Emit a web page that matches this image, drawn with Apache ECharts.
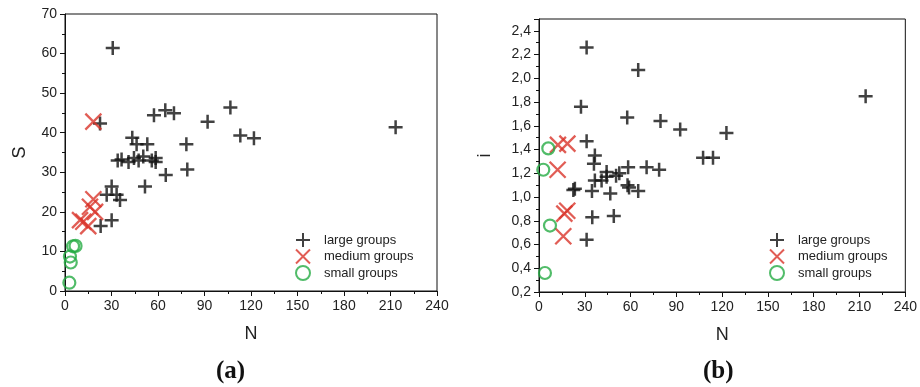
<!DOCTYPE html>
<html>
<head>
<meta charset="utf-8">
<script src="https://cdn.jsdelivr.net/npm/echarts@6/dist/echarts.min.js"></script>
<style>
  html, body { margin: 0; padding: 0; background: #fff; }
  #chart { width: 920px; height: 387px; }
</style>
</head>
<body>
<div id="chart"></div>
<script>
// panel (a): N vs S
const largeA = [
  [30.8, 61.4], [22.6, 42.3], [57.4, 44.4], [64.7, 45.7], [70.3, 44.9], [92, 42.8],
  [106.7, 46.4], [113.1, 39.3], [121.9, 38.6], [213.3, 41.4], [78.3, 37.1], [43.4, 38.7],
  [46.2, 37.1], [53.1, 37.1], [34, 33], [36.5, 33.2], [41, 32.6], [44.5, 33.6],
  [47.5, 33], [50.5, 34], [56, 33], [58.5, 32.6], [58.5, 33.6], [78.9, 30.7],
  [65, 29.3], [51.6, 26.4], [30.1, 26.4], [26.9, 24.3], [33.3, 24.3], [35.5, 23],
  [30.1, 17.9], [23, 16.4]
];
const mediumA = [[18.3, 42.8], [18.3, 23.2], [16.1, 21.3], [19.4, 20], [9.7, 17.9], [11.8, 17.5], [15, 16.4]];
const smallA = [[5.2, 11.3], [6.8, 11.4], [3.2, 8.7], [3.7, 7.2], [2.8, 2.1]];

// panel (b): N vs i
const largeB = [
  [31.2, 2.26], [65, 2.07], [27.5, 1.76], [57.8, 1.67], [79.6, 1.64], [92.5, 1.57],
  [122.8, 1.54], [214, 1.85], [31.2, 1.47], [36.6, 1.35], [36, 1.28], [44.3, 1.21],
  [52.6, 1.2], [58.4, 1.25], [70.5, 1.25], [78.7, 1.23], [107.5, 1.33], [114, 1.33],
  [22.5, 1.06], [23.5, 1.07], [34.7, 1.05], [46.7, 1.03], [65, 1.05], [58, 1.1],
  [59, 1.08], [36.6, 1.14], [41, 1.14], [44.3, 1.17], [50.5, 1.18], [34.9, 0.83],
  [49, 0.84], [31.2, 0.64]
];
const mediumB = [[12.4, 1.44], [18.6, 1.45], [12.2, 1.23], [18.5, 0.885], [16.6, 0.86], [15.9, 0.67]];
const smallB = [[6.1, 1.41], [2.8, 1.23], [7.2, 0.76], [3.9, 0.36]];

const groupNames = ['large groups', 'medium groups', 'small groups'];

const PLUS = 'path://M0,7L14,7M7,0L7,14';
const CROSS = 'path://M0,0L14,14M14,0L0,14';
const txt = '#222';
const font = 'Liberation Sans, Arial, sans-serif';

const chart = echarts.init(document.getElementById('chart'));

const xAxisBase = gi => ({
  gridIndex: gi,
  type: 'value',
  min: 0,
  max: 240,
  interval: 30,
  name: 'N',
  nameLocation: 'middle',
  nameGap: 34,
  nameTextStyle: { fontSize: 18, color: txt, fontFamily: font },
  axisLine: { lineStyle: { color: '#111', width: 1 } },
  axisTick: { length: 5, lineStyle: { color: '#111' } },
  minorTick: { show: true, splitNumber: 2, length: 3, lineStyle: { color: '#111' } },
  axisLabel: { fontSize: 14, color: txt, fontFamily: font, margin: 8 },
  splitLine: { show: false }
});

const commaFmt = v => {
  if (Math.abs(v * 5 - Math.round(v * 5)) > 1e-6) return '';
  return v.toFixed(1).replace('.', ',');
};

function scatter(name, data, gi, kind) {
  const s = { name, type: 'scatter', xAxisIndex: gi, yAxisIndex: gi, data };
  if (kind === 'plus') {
    s.symbol = PLUS; s.symbolSize = 14;
    s.itemStyle = { color: 'rgba(0,0,0,0)', borderColor: '#111', borderWidth: 2.5 };
  } else if (kind === 'cross') {
    s.symbol = CROSS; s.symbolSize = 16;
    s.itemStyle = { color: 'rgba(0,0,0,0)', borderColor: '#d9352a', borderWidth: 2.3 };
  } else {
    s.symbol = 'circle'; s.symbolSize = 12;
    s.itemStyle = { color: 'rgba(0,0,0,0)', borderColor: '#25ab43', borderWidth: 2.2 };
  }
  return s;
}

const legendBase = left => ({
  data: groupNames, orient: 'vertical', left, top: 232, padding: 0,
  itemWidth: 14, itemHeight: 14, itemGap: 0.5,
  textStyle: { fontSize: 13, lineHeight: 14, color: txt, fontFamily: font, padding: [0, 0, 0, 9] }
});

chart.setOption({
  animation: false,
  backgroundColor: '#fff',
  grid: [
    { left: 65, right: 483, top: 14, bottom: 96, show: true, borderColor: '#111', borderWidth: 1 },
    { left: 539, right: 14, top: 19, bottom: 95, show: true, borderColor: '#111', borderWidth: 1 }
  ],
  xAxis: [xAxisBase(0), xAxisBase(1)],
  yAxis: [
    {
      gridIndex: 0, type: 'value', min: 0, max: 70, interval: 10,
      name: 'S', nameLocation: 'middle', nameGap: 36,
      nameTextStyle: { fontSize: 18, color: txt, fontFamily: font },
      axisLine: { show: true, lineStyle: { color: '#111' } },
      axisTick: { show: true, length: 5, lineStyle: { color: '#111' } },
      minorTick: { show: true, splitNumber: 2, length: 3, lineStyle: { color: '#111' } },
      axisLabel: { fontSize: 14, color: txt, fontFamily: font, margin: 8 },
      splitLine: { show: false }
    },
    {
      gridIndex: 1, type: 'value', min: 0.2, max: 2.5, interval: 0.2,
      name: 'i', nameLocation: 'middle', nameGap: 45,
      nameTextStyle: { fontSize: 18, color: txt, fontFamily: font },
      axisLine: { show: true, lineStyle: { color: '#111' } },
      axisTick: { show: true, length: 5, lineStyle: { color: '#111' } },
      minorTick: { show: true, splitNumber: 2, length: 3, lineStyle: { color: '#111' } },
      axisLabel: { fontSize: 14, color: txt, fontFamily: font, margin: 8, formatter: commaFmt, showMaxLabel: false },
      splitLine: { show: false }
    }
  ],
  legend: [legendBase(295), legendBase(769)],
  graphic: [
    { type: 'text', left: 216, top: 359, style: { text: '(a)', font: 'bold 25px "Liberation Serif", "Times New Roman", serif', fill: '#111' } },
    { type: 'text', left: 703, top: 359, style: { text: '(b)', font: 'bold 25px "Liberation Serif", "Times New Roman", serif', fill: '#111' } }
  ],
  series: [
    scatter('large groups', largeA, 0, 'plus'),
    scatter('medium groups', mediumA, 0, 'cross'),
    scatter('small groups', smallA, 0, 'circle'),
    scatter('large groups', largeB, 1, 'plus'),
    scatter('medium groups', mediumB, 1, 'cross'),
    scatter('small groups', smallB, 1, 'circle')
  ]
});
</script>
</body>
</html>
